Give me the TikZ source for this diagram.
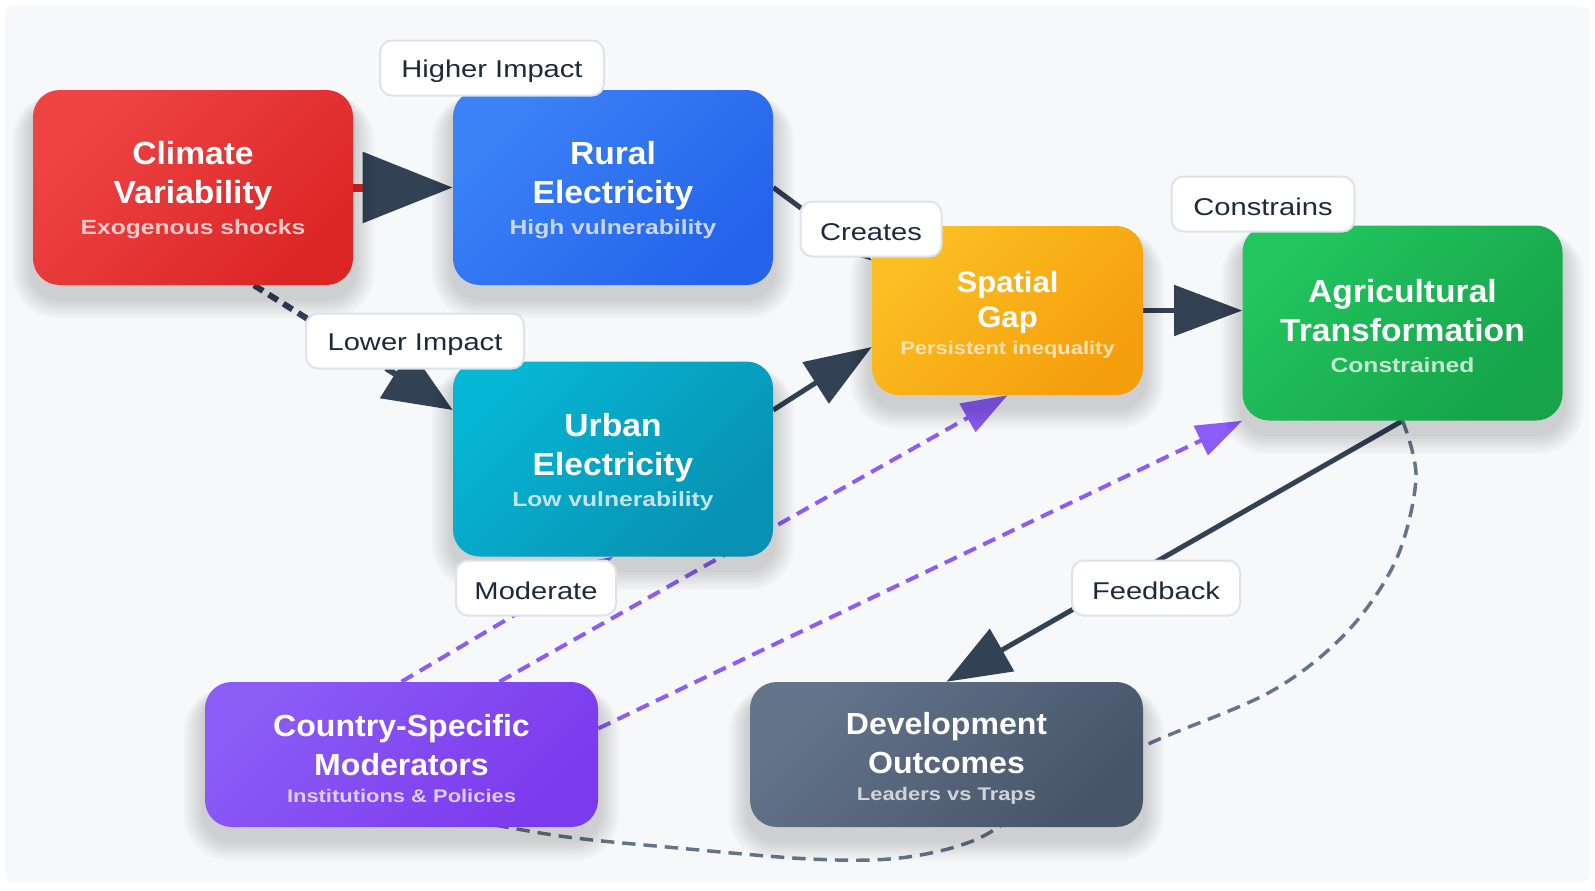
\documentclass[tikz,border=0pt]{standalone}
\usepackage{fontspec}
\setmainfont{Liberation Sans}
\newfontfamily\ntitlefont{Liberation Sans}[FakeStretch=1.05]
\newfontfamily\nsubfont{Liberation Sans}[FakeStretch=1.2]
\newfontfamily\nlblfont{Liberation Sans}[FakeStretch=1.2]
\usetikzlibrary{arrows.meta}
\definecolor{bgc}{HTML}{F7F8FA}
\definecolor{edgec}{HTML}{334155}
\definecolor{purp}{HTML}{8B5CF6}
\definecolor{grayd}{HTML}{64748B}
\definecolor{lblborder}{HTML}{DCE3EC}
\definecolor{lbltext}{HTML}{1E293B}
\definecolor{climA}{HTML}{EF4444}\definecolor{climB}{HTML}{DC2626}
\definecolor{ruralA}{HTML}{3B82F6}\definecolor{ruralB}{HTML}{2563EB}
\definecolor{urbA}{HTML}{06B6D4}\definecolor{urbB}{HTML}{0891B2}
\definecolor{gapA}{HTML}{FBBF24}\definecolor{gapB}{HTML}{F59E0B}
\definecolor{agriA}{HTML}{22C55E}\definecolor{agriB}{HTML}{16A34A}
\definecolor{ctryA}{HTML}{8B5CF6}\definecolor{ctryB}{HTML}{7C3AED}
\definecolor{devA}{HTML}{64748B}\definecolor{devB}{HTML}{475569}
\colorlet{climS}{white!75!climB}
\colorlet{ruralS}{white!75!ruralB}
\colorlet{urbS}{white!75!urbB}
\colorlet{gapS}{white!70!gapB}
\colorlet{agriS}{white!75!agriB}
\colorlet{ctryS}{white!75!ctryB}
\colorlet{devS}{white!75!devB}
\pgfdeclarelayer{bg}\pgfdeclarelayer{edges}\pgfdeclarelayer{shadow}
\pgfsetlayers{bg,edges,shadow,main}
\newcommand\bigsub[2]{\\[-6pt]{\nsubfont\bfseries\fontsize{15.4}{18}\selectfont\color{#1}#2}}
\newcommand\smallsub[2]{\\[-8.6pt]{\nsubfont\bfseries\fontsize{13.7}{16}\selectfont\color{#1}#2}}
\newcommand\gapsub[2]{\\[-5.8pt]{\nsubfont\bfseries\fontsize{13.7}{16}\selectfont\color{#1}#2}}
\newcommand\bigtop{\rule{0pt}{21.7pt}}
\newcommand\smalltop{\rule{0pt}{22.4pt}}
\newcommand\gaptop{\rule{0pt}{21.9pt}}
\tikzset{
  box/.style={rounded corners=20pt, inner sep=0pt, align=center, text=white},
  grad/.style 2 args={top color=#1, bottom color=#2, shading angle=45},
  bigbox/.style={box, minimum width=240pt, minimum height=146.25pt,
    font=\ntitlefont\bfseries\fontsize{24}{29.25}\selectfont},
  smallbox/.style={box, minimum width=294.75pt, minimum height=108.75pt,
    font=\ntitlefont\bfseries\fontsize{22.9}{28.8}\selectfont},
  gapbox/.style={box, minimum width=203.25pt, minimum height=126.75pt,
    font=\ntitlefont\bfseries\fontsize{22.2}{26.25}\selectfont},
  lbl/.style={draw=lblborder, line width=1.5pt, fill=white, rounded corners=9pt,
    inner sep=0pt, minimum height=41.25pt,
    font=\nlblfont\fontsize{18.2}{22}\selectfont, text=lbltext,
    execute at begin node={\rule{0pt}{17.5pt}}},
  darkedge/.style={draw=edgec, line width=3.75pt},
  purpedge/.style={draw=purp, line width=3pt, dash pattern=on 10pt off 6pt},
  grayedge/.style={draw=grayd, line width=2.6pt, dash pattern=on 10pt off 6pt},
}
\begin{document}
\begin{tikzpicture}[x=0.75pt,y=-0.75pt]
\useasboundingbox (0,0) rectangle (1595,890);
\begin{pgfonlayer}{bg}
\fill[white] (0,0) rectangle (1595,890);
\fill[bgc, rounded corners=6pt] (5,6) rectangle (1590,882);
\end{pgfonlayer}

% nodes
\node[bigbox, grad={climA}{climB}] (climate) at (193,187.5)
  {\bigtop Climate\\Variability\bigsub{climS}{Exogenous shocks}};
\node[bigbox, grad={ruralA}{ruralB}] (rural) at (613,187.5)
  {\bigtop Rural\\Electricity\bigsub{ruralS}{High vulnerability}};
\node[bigbox, grad={urbA}{urbB}] (urban) at (613,459)
  {\bigtop Urban\\Electricity\bigsub{urbS}{Low vulnerability}};
\node[gapbox, grad={gapA}{gapB}] (spatial) at (1007.5,310.5)
  {\gaptop Spatial\\Gap\gapsub{gapS}{Persistent inequality}};
\node[bigbox, grad={agriA}{agriB}] (agri) at (1402.5,323)
  {\bigtop Agricultural\\Transformation\bigsub{agriS}{Constrained}};
\node[smallbox, grad={ctryA}{ctryB}] (country) at (401.5,754.5)
  {\smalltop Country-Specific\\Moderators\smallsub{ctryS}{Institutions \& Policies}};
\node[smallbox, grad={devA}{devB}] (dev) at (946.5,754.5)
  {\smalltop Development\\Outcomes\smallsub{devS}{Leaders vs Traps}};

% soft shadows
\begin{pgfonlayer}{shadow}
\foreach \n in {climate,rural,urban,spatial,agri,country,dev}{
  \foreach \k in {1,...,7}{
    \fill[black, opacity=0.022, rounded corners=20pt+\k*2pt]
      ([shift={(-\k*3,12-\k*1)}]\n.north west) rectangle ([shift={(\k*3,12+\k*3)}]\n.south east);
  }
}
\end{pgfonlayer}

% edges
\begin{pgfonlayer}{edges}
\draw[draw=climB, line width=6pt, -{Triangle[length=67.5pt,width=52pt,color=edgec]}]
  (climate.east) -- (rural.west);
\draw[darkedge, line width=4.5pt, dash pattern=on 8pt off 5pt, -{Triangle[length=51pt,width=42pt]}]
  ([shift={(61,0)}]climate.south) -- ([shift={(0,-49)}]urban.west);
\draw[darkedge, -{Triangle[length=45pt,width=33pt]}]
  (rural.east) -- ([shift={(0,-50)}]spatial.west);
\draw[darkedge, -{Triangle[length=50pt,width=36pt]}]
  ([shift={(0,-49)}]urban.east) -- ([shift={(0,36.5)}]spatial.west);
\draw[darkedge, -{Triangle[length=51pt,width=37.5pt]}]
  (spatial.east) -- ([shift={(0,-12.5)}]agri.west);
\draw[darkedge, -{Triangle[length=48pt,width=36pt]}]
  (agri.south) -- (dev.north);
\draw[purpedge, -{Triangle[length=34.5pt,width=24pt]}]
  (country.north) -- (urban.south);
\draw[purpedge, -{Triangle[length=34.5pt,width=24pt]}]
  ([shift={(98,0)}]country.north) -- (spatial.south);
\draw[purpedge, -{Triangle[length=34.5pt,width=24pt]}]
  ([shift={(0,-26)}]country.east) -- (agri.south west);
\draw[grayedge] plot[smooth, tension=0.55] coordinates {(agri.south) (1416,478) (1396,560) (1346,633) (1270,692) (1146,745) (1040,800) (975,840) (900,858) (810,859) (667,847) (560,836) ([shift={(40,-12)}]country.south)};
\end{pgfonlayer}

% labels
\node[lbl, minimum width=168pt] (lhigh) at (492,68) {Higher Impact};
\node[lbl, minimum width=105.75pt] (lcreates) at (871,229) {Creates};
\node[lbl, minimum width=137.25pt] (lconstr) at (1263,204) {Constrains};
\node[lbl, minimum width=163.5pt] (llower) at (415,341) {Lower Impact};
\node[lbl, minimum width=120pt] (lmod) at (536,588) {Moderate};
\node[lbl, minimum width=126pt] (lfeed) at (1156,588) {Feedback};
\end{tikzpicture}
\end{document}
